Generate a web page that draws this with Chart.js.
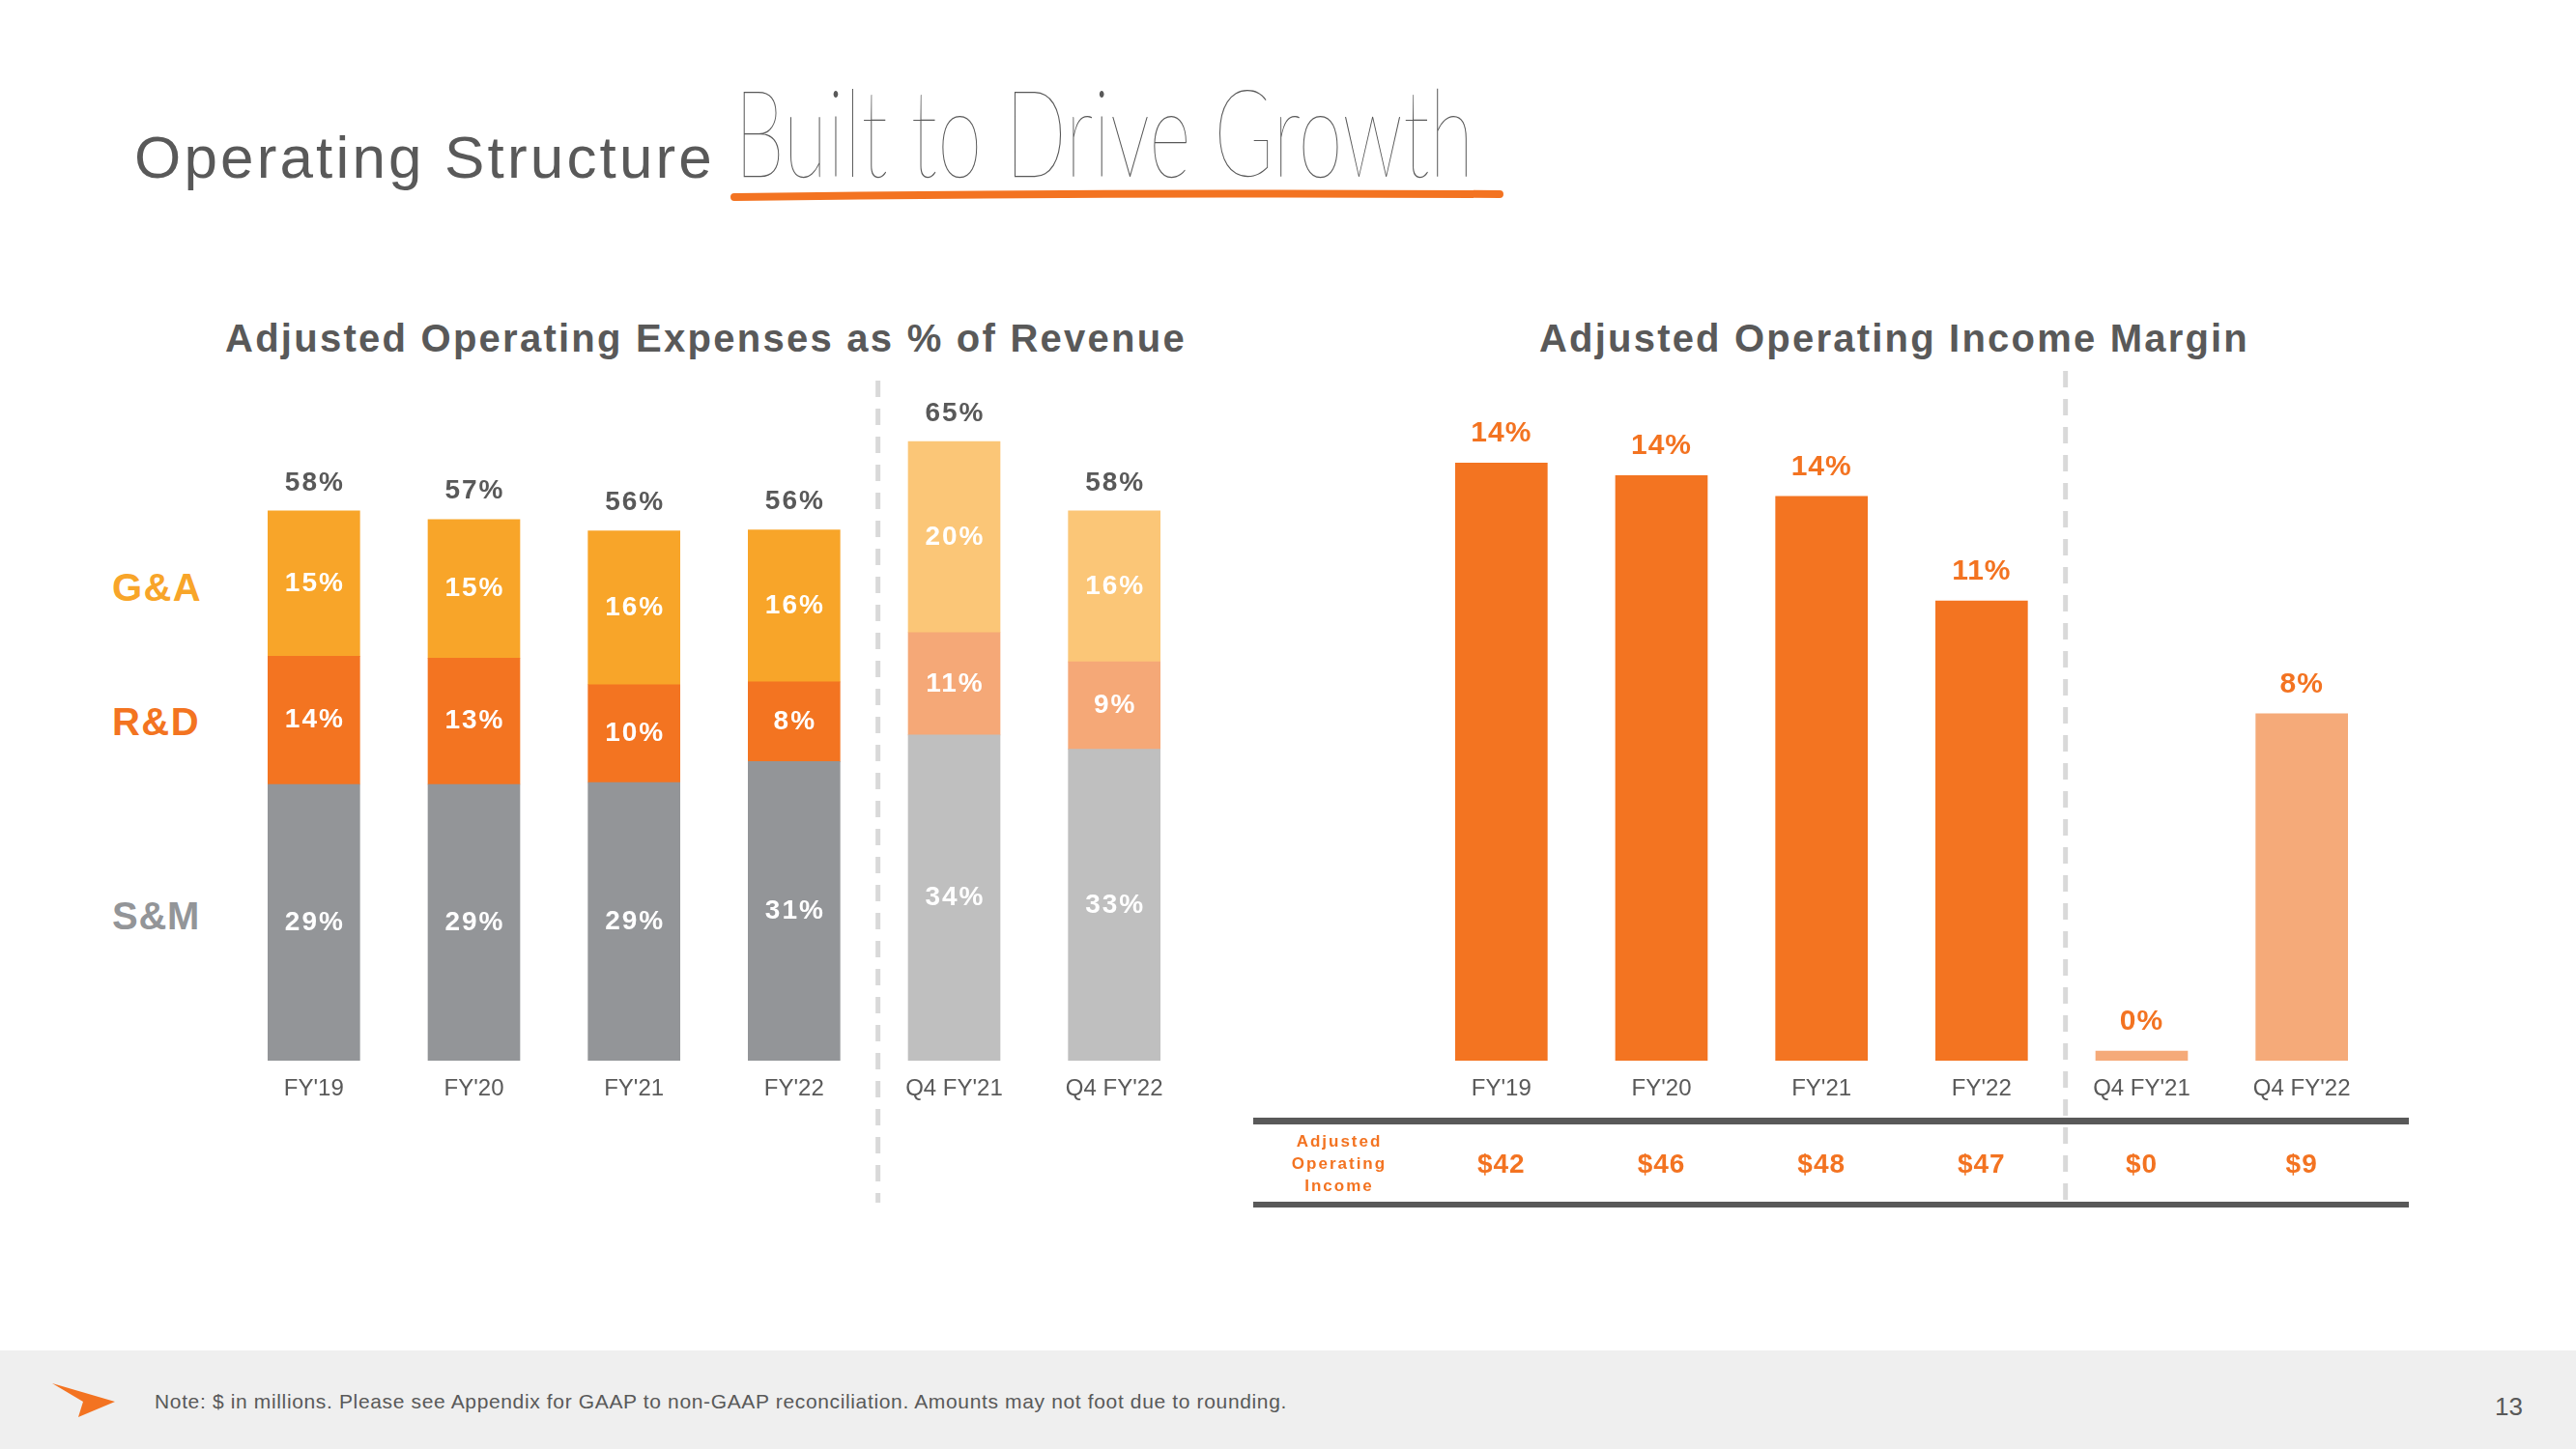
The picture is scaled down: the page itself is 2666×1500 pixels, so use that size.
<!DOCTYPE html>
<html>
<head>
<meta charset="utf-8">
<script src="https://cdn.jsdelivr.net/npm/chart.js@4.4.0/dist/chart.umd.min.js"></script>
<style>
  body { margin: 0; width: 2666px; height: 1500px; position: relative; overflow: hidden; background: #fff;
         font-family: "Liberation Sans", Arial, sans-serif; color: #595959; }
  .abs { position: absolute; white-space: nowrap; line-height: 1; }
  .title { font-size: 40px; font-weight: bold; top: 330px; }
  .row { font-size: 40px; font-weight: bold; left: 116px; }
  canvas { position: absolute; }
  #footer { position: absolute; left: 0; top: 1398px; width: 2666px; height: 102px; background: #efefef; }
</style>
</head>
<body>
<div id="footer"></div>
<svg class="abs" style="left:0;top:0" width="2666" height="1500">
  <path d="M760 204 Q1150 199 1552 201" stroke="#f37321" stroke-width="8" stroke-linecap="round" fill="none"/>
  <polygon points="54,1432 119,1451 81,1467 86,1451" fill="#f37321"/>
</svg>

<div class="abs fit" id="mainTitle" data-w="601" style="left:139px;top:132px;font-size:62px;">Operating Structure</div>
<div class="abs" id="hand" style="left:760px;top:72px;font-size:126px;font-family:Lato,Roboto,sans-serif;font-weight:200;transform-origin:0 0;">Built to Drive Growth</div>

<div class="abs title fit" data-w="995" style="left:233px;">Adjusted Operating Expenses as % of Revenue</div>
<div class="abs title fit" data-w="735" style="left:1593px;">Adjusted Operating Income Margin</div>

<div class="abs row fit" data-w="93" style="top:588px;color:#f8a529;">G&amp;A</div>
<div class="abs row fit" data-w="91" style="top:727px;color:#f37421;">R&amp;D</div>
<div class="abs row fit" data-w="91" style="top:928px;color:#939598;">S&amp;M</div>

<div class="abs fit" data-w="1172" style="left:160px;top:1440px;font-size:21px;">Note: $ in millions. Please see Appendix for GAAP to non-GAAP reconciliation. Amounts may not foot due to rounding.</div>
<div class="abs" style="left:2582px;top:1443px;font-size:26px;">13</div>

<canvas id="opexChart" width="1014" height="880" style="left:232px;top:380px;"></canvas>
<canvas id="marginChart" width="1210" height="880" style="left:1290px;top:380px;"></canvas>

<script>
// categories and values
const categories = ["FY'19", "FY'20", "FY'21", "FY'22", "Q4 FY'21", "Q4 FY'22"];

const smValues = [29.1, 29.1, 29.3, 31.5, 34.3, 32.8];
const rdValues = [13.5, 13.3, 10.3, 8.4, 10.8, 9.2];
const gaValues = [15.3, 14.6, 16.2, 16.0, 20.1, 15.9];
const smLabels = ['29%', '29%', '29%', '31%', '34%', '33%'];
const rdLabels = ['14%', '13%', '10%', '8%', '11%', '9%'];
const gaLabels = ['15%', '15%', '16%', '16%', '20%', '16%'];
const totalLabels = ['58%', '57%', '56%', '56%', '65%', '58%'];

const marginValues = [14.3, 14.0, 13.5, 11.0, 0.23, 8.3];
const marginLabels = ['14%', '14%', '14%', '11%', '0%', '8%'];
const incomeLabels = ['$42', '$46', '$48', '$47', '$0', '$9'];

const FONT = '"Liberation Sans", Arial, sans-serif';
const GREY = '#595959';

// stretch titles to the width they take on the slide
document.querySelectorAll('.fit').forEach(el => {
  const nat = el.getBoundingClientRect().width;
  const n = el.textContent.length;
  el.style.letterSpacing = ((+el.dataset.w - nat) / n) + 'px';
});
const hand = document.getElementById('hand');
hand.style.transform = 'scaleX(' + (765 / hand.getBoundingClientRect().width) + ')';

function divider(chart, top, bottom) {
  const ctx = chart.ctx;
  const x = chart.scales.x;
  const dx = (x.getPixelForValue(3) + x.getPixelForValue(4)) / 2 + 4;
  ctx.save();
  ctx.strokeStyle = '#d9d9d9';
  ctx.lineWidth = 5;
  ctx.setLineDash([17, 12]);
  ctx.beginPath();
  ctx.moveTo(dx, top);
  ctx.lineTo(dx, bottom);
  ctx.stroke();
  ctx.restore();
}

const opexLabels = {
  id: 'opexLabels',
  afterDatasetsDraw(chart) {
    const ctx = chart.ctx;
    ctx.save();
    ctx.textAlign = 'center';
    ctx.textBaseline = 'middle';
    ctx.font = 'bold 28px ' + FONT;
    ctx.letterSpacing = '2px';
    const segLabels = [smLabels, rdLabels, gaLabels];
    chart.data.datasets.forEach((ds, i) => {
      chart.getDatasetMeta(i).data.forEach((bar, j) => {
        ctx.fillStyle = '#fff';
        ctx.fillText(segLabels[i][j], bar.x + 1, (bar.y + bar.base) / 2);
      });
    });
    chart.getDatasetMeta(2).data.forEach((bar, j) => {
      ctx.fillStyle = GREY;
      ctx.fillText(totalLabels[j], bar.x + 1, bar.y - 29);
    });
    ctx.restore();
    divider(chart, 14, 865);
  }
};

const marginExtras = {
  id: 'marginExtras',
  afterDatasetsDraw(chart) {
    const ctx = chart.ctx;
    const x = chart.scales.x;
    divider(chart, 4, 865);
    ctx.save();
    ctx.textAlign = 'center';
    ctx.textBaseline = 'middle';
    ctx.font = 'bold 30px ' + FONT;
    ctx.letterSpacing = '1px';
    ctx.fillStyle = '#f37321';
    chart.getDatasetMeta(0).data.forEach((bar, j) => {
      ctx.fillText(marginLabels[j], bar.x, bar.y - 30);
    });
    // income table under the axis
    ctx.fillStyle = GREY;
    ctx.fillRect(7, 777, 1196, 7);
    ctx.fillRect(7, 864, 1196, 6);
    ctx.fillStyle = '#f37321';
    ctx.font = 'bold 28px ' + FONT;
    incomeLabels.forEach((t, j) => ctx.fillText(t, x.getPixelForValue(j), 826));
    ctx.font = 'bold 17px ' + FONT;
    ctx.letterSpacing = '2px';
    ['Adjusted', 'Operating', 'Income'].forEach((t, k) => ctx.fillText(t, 96, 802 + k * 23));
    ctx.restore();
  }
};

const xAxis = {
  grid: { display: false, drawTicks: false, tickLength: 0 },
  border: { display: false },
  ticks: { color: GREY, padding: 15, font: { family: FONT, size: 24 } },
  afterFit(axis) { axis.height = 162; }
};

new Chart(document.getElementById('opexChart'), {
  type: 'bar',
  data: {
    labels: categories,
    datasets: [
      { label: 'S&M', data: smValues,
        backgroundColor: ['#939598', '#939598', '#939598', '#939598', '#bfbfbf', '#bfbfbf'] },
      { label: 'R&D', data: rdValues,
        backgroundColor: ['#f37421', '#f37421', '#f37421', '#f37421', '#f5a877', '#f5a877'] },
      { label: 'G&A', data: gaValues,
        backgroundColor: ['#f8a529', '#f8a529', '#f8a529', '#f8a529', '#fbc677', '#fbc677'] }
    ]
  },
  options: {
    responsive: false,
    animation: false,
    barThickness: 95,
    layout: { padding: { left: 10, right: 10, top: 30, bottom: 0 } },
    plugins: { legend: { display: false }, tooltip: { enabled: false } },
    scales: {
      x: Object.assign({ stacked: true }, xAxis),
      y: { stacked: true, display: false, min: 0, max: 70 }
    }
  },
  plugins: [opexLabels]
});

new Chart(document.getElementById('marginChart'), {
  type: 'bar',
  data: {
    labels: categories,
    datasets: [
      { label: 'Adjusted Operating Income Margin', data: marginValues,
        backgroundColor: ['#f37421', '#f37421', '#f37421', '#f37421', '#f5aa79', '#f5aa79'] }
    ]
  },
  options: {
    responsive: false,
    animation: false,
    barThickness: 95,
    layout: { padding: { left: 181, right: 35, top: 30, bottom: 0 } },
    plugins: { legend: { display: false }, tooltip: { enabled: false } },
    scales: {
      x: xAxis,
      y: { display: false, min: 0, max: 15.9 }
    }
  },
  plugins: [marginExtras]
});
</script>
</body>
</html>
